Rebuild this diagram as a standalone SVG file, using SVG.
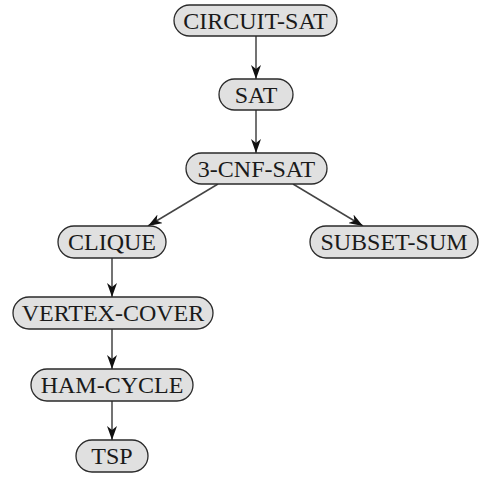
<svg xmlns="http://www.w3.org/2000/svg" width="480" height="477" viewBox="0 0 480 477">
<style>
.box{fill:#e0e0e0;stroke:#2a2a2a;stroke-width:1.3}
.lbl{font-family:"Liberation Serif","Times New Roman",Times,serif;font-size:24px;fill:#1a1a1a;text-anchor:middle;dominant-baseline:central}
.edge{stroke:#444;stroke-width:1.5;fill:none;marker-end:url(#arr)}
</style>
<defs>
<marker id="arr" viewBox="0 0 14 10" refX="14" refY="5" markerWidth="14" markerHeight="10" markerUnits="userSpaceOnUse" orient="auto">
<path d="M0,0 L14,5 L0,10 L4,5 z" fill="#111"/>
</marker>
</defs>
<rect width="480" height="477" fill="#fff"/>
<g id="connectors">
<line class="edge" x1="256" y1="36" x2="256" y2="79"/>
<line class="edge" x1="256" y1="110" x2="256" y2="153"/>
<line class="edge" x1="218" y1="184" x2="148" y2="226"/>
<line class="edge" x1="293" y1="184" x2="363" y2="226"/>
<line class="edge" x1="112" y1="258" x2="112" y2="297"/>
<line class="edge" x1="112" y1="329" x2="112" y2="369"/>
<line class="edge" x1="112" y1="401" x2="112" y2="440"/>
</g>
<g id="circuit-sat"><rect class="box" x="174" y="5" width="163" height="31" rx="15.5"/><text class="lbl" x="255.5" y="21">CIRCUIT-SAT</text></g>
<g id="sat"><rect class="box" x="219" y="79" width="74" height="31" rx="15.5"/><text class="lbl" x="256" y="95">SAT</text></g>
<g id="3-cnf-sat"><rect class="box" x="186" y="153" width="141" height="31" rx="15.5"/><text class="lbl" x="256.5" y="169">3-CNF-SAT</text></g>
<g id="clique"><rect class="box" x="58" y="226" width="108" height="32" rx="16"/><text class="lbl" x="112" y="242">CLIQUE</text></g>
<g id="subset-sum"><rect class="box" x="310" y="226" width="168" height="32" rx="16"/><text class="lbl" x="394" y="242">SUBSET-SUM</text></g>
<g id="vertex-cover"><rect class="box" x="13" y="297" width="200" height="32" rx="16"/><text class="lbl" x="113" y="313">VERTEX-COVER</text></g>
<g id="ham-cycle"><rect class="box" x="31" y="369" width="162" height="32" rx="16"/><text class="lbl" x="112" y="385">HAM-CYCLE</text></g>
<g id="tsp"><rect class="box" x="76" y="440" width="72" height="32" rx="16"/><text class="lbl" x="112" y="456">TSP</text></g>
</svg>
